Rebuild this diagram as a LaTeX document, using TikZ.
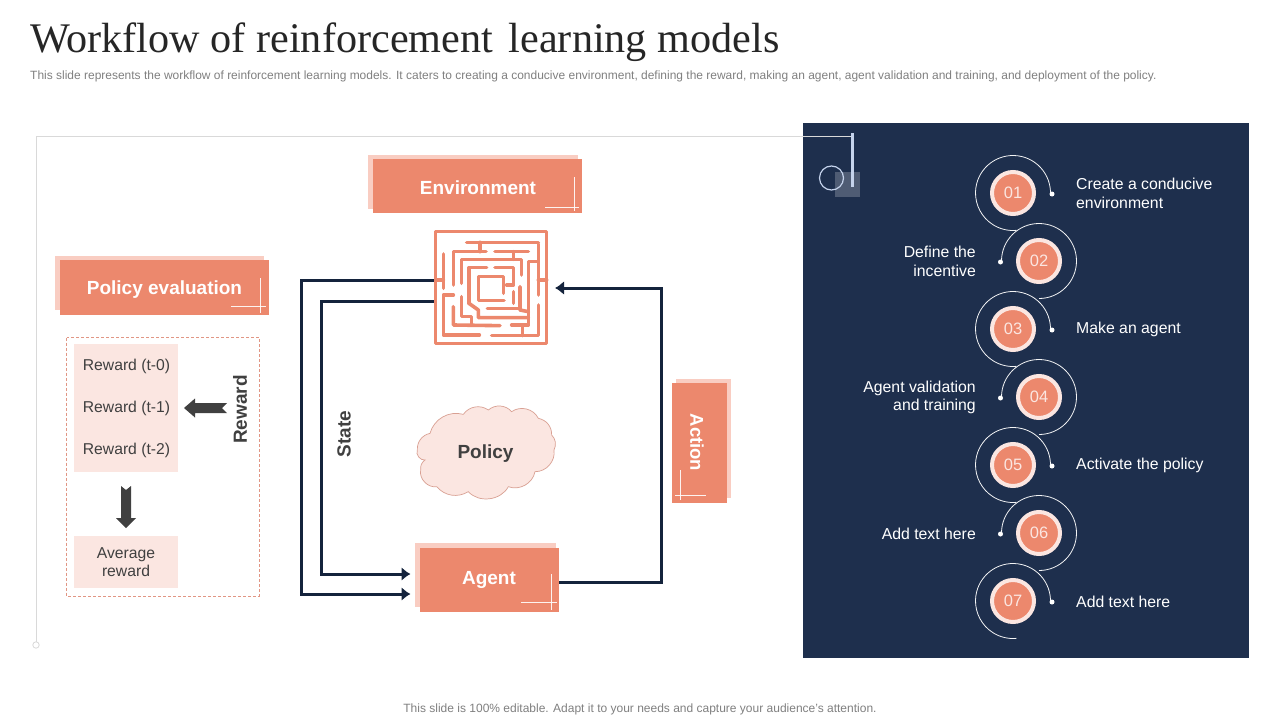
\documentclass[tikz,border=0pt]{standalone}
\usepackage{fontspec}
\setmainfont{Liberation Sans}
\newfontfamily\titlefont{Liberation Serif}
\usetikzlibrary{arrows.meta,positioning}
\definecolor{orng}{HTML}{EC886D}
\definecolor{orngback}{HTML}{F9CDC2}
\definecolor{pale}{HTML}{FBE6E1}
\definecolor{navy}{HTML}{1E2F4D}
\definecolor{arrowdark}{HTML}{14233C}
\definecolor{txtdark}{HTML}{404040}
\definecolor{cloudline}{HTML}{D9A093}
\definecolor{frameln}{HTML}{D9D9D9}
\definecolor{iceln}{HTML}{C5D3EC}
\newcommand{\fs}[1]{\fontsize{#1pt}{#1pt}\selectfont}
\tikzset{
  x=1pt,y=-1pt,
  frontbox/.style={fill=orng,draw=none,inner sep=0pt,outer sep=0pt},
  boxlabel/.style={text=white,font=\bfseries\fs{19},inner sep=0pt},
  crossln/.style={draw=white,line width=0.6pt,opacity=.9},
  flow/.style={draw=arrowdark,line width=3pt,line cap=butt,line join=miter},
  flowtip/.style={flow,-{Latex[length=9pt,width=14pt]}},
  mazeln/.style={draw=orng,line width=3.6pt,line cap=round,line join=round},
  panel/.style={fill=pale,draw=none,inner sep=0pt,text=txtdark,font=\fs{15.7},align=center},
  rewardtxt/.style={text=txtdark,font=\fs{15.7},inner sep=0pt},
  fat/.style={fill=txtdark,draw=none},
  numring/.style={circle,fill=orng,draw=pale,line width=4pt,minimum size=42pt,inner sep=0pt,text=pale,font=\fs{16.5}},
  orbit/.style={draw=white,line width=.8pt,opacity=.95},
  dotpt/.style={circle,fill=white,inner sep=0pt,minimum size=5pt},
  steplabel/.style={text=white,font=\fs{15.8},inner sep=0pt},
  rightlab/.style={steplabel,anchor=west,align=left},
  leftlab/.style={steplabel,anchor=east,align=right},
  sidelabel/.style={text=txtdark,font=\bfseries\fs{19},inner sep=0pt}
}
\begin{document}
\begin{tikzpicture}
\useasboundingbox (0,0) rectangle (1280,720);
\fill[white] (0,0) rectangle (1280,720);

% title
\node[anchor=west,inner sep=0pt,text=black!85] (title) at (30,42) {\titlefont\fs{42.2}Workflow of reinforcement\hspace{5pt} learning models};
\node[anchor=west,inner sep=0pt,text=black!50] (subtitle) at (30,76.5) {\fs{11.98}This slide represents the workflow of reinforcement learning models. It caters to creating a conducive environment, defining the reward, making an agent, agent validation and training, and deployment of the policy.};
\node[inner sep=0pt,text=black!50] (footer) at (640,709.5) {\fs{12}This slide is 100\% editable. Adapt it to your needs and capture your audience's attention.};

% navy panel
\fill[navy] (803,123) rectangle (1249,658);

% frame
\draw[frameln,line width=.8pt] (36,641.5) -- (36,136.5) -- (853,136.5);
\draw[frameln,line width=.8pt] (36,645) circle[radius=3.2pt];
\fill[white,opacity=.22] (835,172) rectangle (860,197);
\draw[iceln,line width=1.2pt] (831.5,178) circle[radius=12pt];
\draw[iceln,line width=2.4pt] (852.5,133) -- (852.5,187);

% Environment
\fill[orngback] (368,155) rectangle (578,209);
\node[frontbox,minimum width=209pt,minimum height=54pt] (env) at (477.5,186) {};
\node[boxlabel] (envlab) at (478,188) {Environment};
\draw[crossln] (574,177) -- (574,211);
\draw[crossln] (545,207) -- (579,207);

% Policy evaluation
\fill[orngback] (55,256) rectangle (264,310);
\node[frontbox,minimum width=209pt,minimum height=55pt] (pe) at (164.5,287.5) {};
\node[boxlabel] (pelab) at (164.5,290) {Policy evaluation};
\draw[crossln] (260,278) -- (260,313);
\draw[crossln] (231,306) -- (266,306);

% Dashed reward box
\draw[draw=cloudline!60!orng,dashed,dash pattern=on 3pt off 2pt,line width=.7pt] (66.5,337.5) rectangle (259,596);
\node[panel,minimum width=104pt,minimum height=128pt] (rewards) at (126,408) {};
\node[rewardtxt] (r0) at (126.5,366) {Reward (t-0)};
\node[rewardtxt] (r1) at (126.5,408) {Reward (t-1)};
\node[rewardtxt] (r2) at (126.5,450) {Reward (t-2)};
\node[panel,minimum width=104pt,minimum height=52pt] (avg) at (126,562) {Average\\[2.8pt]reward};
\fill[fat] (184,408) -- (195,398.5) -- (195,403) -- (227,403) -- (222,408) -- (227,413) -- (195,413) -- (195,417.5) -- cycle;
\fill[fat] (126,528) -- (116,518) -- (121,518) -- (121,486) -- (126,490) -- (131,486) -- (131,518) -- (136,518) -- cycle;
\node[sidelabel,rotate=90] (rewardlab) at (240,409.5) {Reward};
\node[sidelabel,rotate=90] (statelab) at (344,434) {State};

% Maze
\node[minimum width=114pt,minimum height=114pt,inner sep=0pt] (maze) at (491,287.5) {};
\begin{scope}[x=0.33333pt,y=-0.33333pt,shift={(400pt,-140pt)}]
\draw[mazeln] (107,275) rectangle (440,610);
\draw[mazeln] (200,307) -- (415,307);
\draw[mazeln] (240,307) -- (240,335);
\draw[mazeln] (258,335) -- (160,335) -- (160,435);
\draw[mazeln] (285,335) -- (385,335);
\draw[mazeln] (340,335) -- (340,358);
\draw[mazeln] (130,342) -- (130,445);
\draw[mazeln] (107,420) -- (130,420);
\draw[mazeln] (185,430) -- (185,358) -- (365,358) -- (365,405);
\draw[mazeln] (260,383) -- (207,383) -- (207,490);
\draw[mazeln] (285,383) -- (340,383) -- (340,435) -- (320,435);
\draw[mazeln] (310,460) -- (310,410) -- (235,410) -- (235,482) -- (312,482);
\draw[mazeln] (410,365) -- (385,365) -- (385,555) -- (335,555);
\draw[mazeln] (415,312) -- (415,465);
\draw[mazeln] (415,420) -- (440,420);
\draw[mazeln] (160,465) -- (130,465) -- (130,585) -- (238,585);
\draw[mazeln] (160,500) -- (160,555) -- (300,557);
\draw[mazeln] (185,470) -- (185,530) -- (215,530) -- (215,553);
\draw[mazeln] (207,490) -- (235,510) -- (235,533) -- (385,533);
\draw[mazeln] (360,440) -- (360,510) -- (385,515);
\draw[mazeln] (360,505) -- (262,505);
\draw[mazeln] (340,455) -- (340,490);
\draw[mazeln] (368,555) -- (368,587);
\draw[mazeln] (275,587) -- (415,587) -- (415,495);
\end{scope}

% Policy cloud
\begin{scope}[x=0.33333pt,y=-0.33333pt,shift={(400pt,-390pt)}]
\draw[draw=cloudline,fill=pale,line width=.7pt]
 (90,130) to[bend left=45] (190,73) to[bend left=45] (265,60) to[bend left=45] (335,65)
 to[bend left=50] (415,85) to[bend left=40] (455,135) to[bend left=35] (462,180)
 to[bend left=50] (405,245) to[bend left=50] (325,290) to[bend left=55] (205,305)
 to[bend left=40] (110,290) to[bend left=55] (62,240) to[bend left=30] (75,210)
 to[bend left=60] (52,180) to[bend left=40] (90,130) -- cycle;
\end{scope}
\node[text=txtdark,font=\bfseries\fs{19},inner sep=0pt] (policylab) at (485.5,453.5) {Policy};

% Agent
\fill[orngback] (415,543) rectangle (556,607);
\node[frontbox,minimum width=139pt,minimum height=64pt] (agent) at (489.5,580) {};
\node[boxlabel] (agentlab) at (489,579.5) {Agent};
\draw[crossln] (551,574) -- (551,610);
\draw[crossln] (521,602) -- (557,602);

% Action
\fill[orngback] (676,379) rectangle (731,498);
\node[frontbox,minimum width=55pt,minimum height=120pt] (action) at (699.5,443) {};
\node[text=white,font=\bfseries\fs{18.5},inner sep=0pt,rotate=-90] (actionlab) at (697,442.5) {Action};
\draw[crossln] (680,470) -- (680,500);
\draw[crossln] (675,495) -- (706,495);

% Connectors
\coordinate (st1a) at (maze.west |- 0,280);
\coordinate (st2a) at (maze.west |- 0,301);
\coordinate (ag1) at (410.5,594);
\coordinate (ag2) at (410.5,574);
\coordinate (acttip) at (555,288);
\coordinate (agr) at (agent.east |- 0,582);
\draw[flowtip] (st1a) -- (301.5,280) -- (301.5,594) -- (ag1);
\draw[flowtip] (st2a) -- (321.5,301) -- (321.5,574) -- (ag2);
\draw[flowtip] (agr) -- (661,582) -- (661,288) -- (acttip);

% Steps
\foreach \n/\cx/\cy/\lab in {01/1013/193/a,03/1013/329/c,05/1013/465/e,07/1013/601/g}{
  \node[numring] (c\lab) at (\cx,\cy) {\n};
  \node[dotpt] (d\lab) at (1052,\cy+1) {};
  \draw[orbit] (c\lab.center) ++(-2:37.5pt) arc[start angle=-2,end angle=275,radius=37.5pt];
}
\foreach \n/\cx/\cy/\lab in {02/1039/261/b,04/1039/397/d,06/1039/533/f}{
  \node[numring] (c\lab) at (\cx,\cy) {\n};
  \node[dotpt] (d\lab) at (1000.5,\cy+1) {};
  \draw[orbit] (c\lab.center) ++(180:37.5pt) arc[start angle=180,end angle=-90,radius=37.5pt];
}
\node[rightlab] (ta) at (1076,193.5) {Create a conducive\\[3pt]environment};
\node[leftlab] (tb) at (976,261.5) {Define the\\[3pt]incentive};
\node[rightlab] (tc) at (1076,329.5) {Make an agent};
\node[leftlab] (td) at (976,397.5) {Agent validation\\[3pt]and training};
\node[rightlab] (te) at (1076,465.5) {Activate the policy};
\node[leftlab] (tf) at (976,533.5) {Add text here};
\node[rightlab] (tg) at (1076,601.5) {Add text here};
\end{tikzpicture}
\end{document}
